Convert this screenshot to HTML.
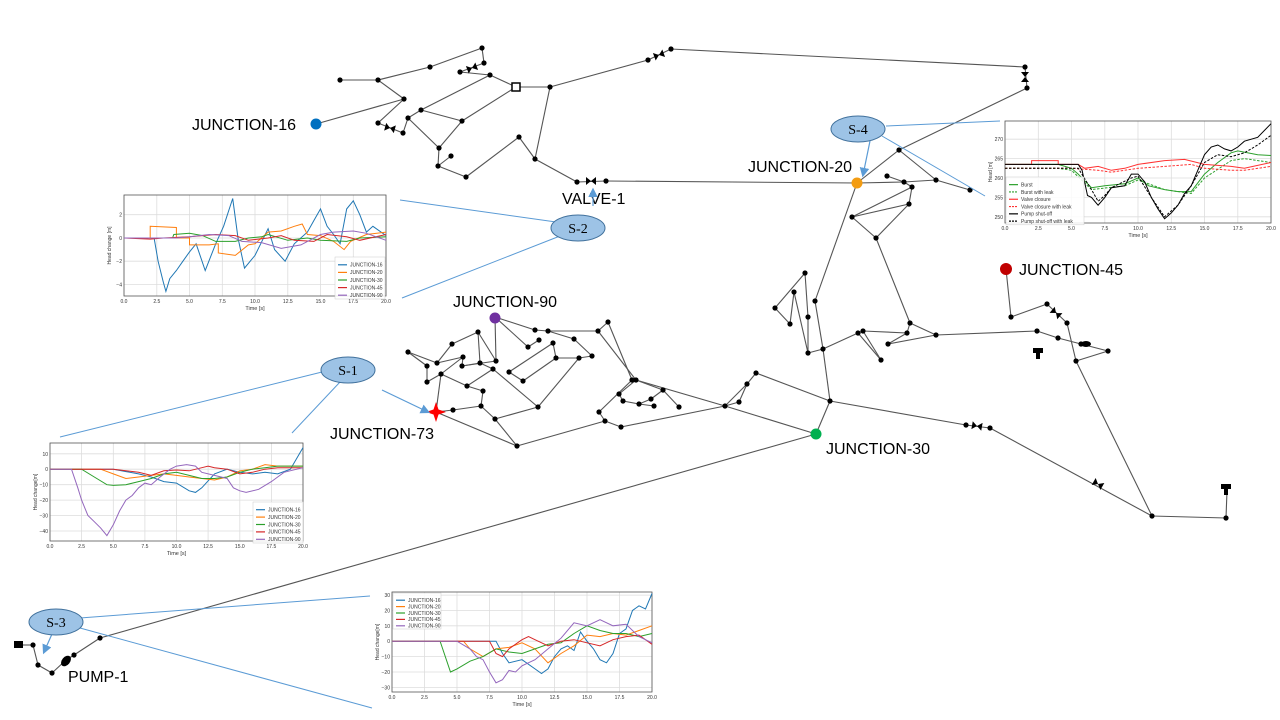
<!DOCTYPE html>
<html><head><meta charset="utf-8"><style>
html,body{margin:0;padding:0;background:#fff;width:1280px;height:720px;overflow:hidden}
svg{display:block;font-family:"Liberation Sans",Arial,sans-serif}
</style></head><body>
<svg id="s" width="1280" height="720" viewBox="0 0 1280 720" xmlns="http://www.w3.org/2000/svg"></svg>
<script>
var out=[];
function L(x1,y1,x2,y2,c,w,extra){out.push('<line x1="'+x1+'" y1="'+y1+'" x2="'+x2+'" y2="'+y2+'" stroke="'+c+'" stroke-width="'+w+'" '+(extra||'')+'/>');}
function T(x,y,t,sz,extra){out.push('<text x="'+x+'" y="'+y+'" font-size="'+sz+'" '+(extra||'')+'>'+t+'</text>');}
var N={
a:[340,80],b:[378,80],c:[430,67],d:[482,48],e:[484,63],f:[460,72],g:[490,75],h:[516,87],i:[550,87],j:[404,99],
m:[378,123],n:[403,133],l:[408,118],k:[421,110],o:[462,121],p:[439,148],r:[438,166],q:[451,156],s:[466,177],t:[519,137],u:[535,159],
v:[577,182],w:[606,181],x:[648,60],y:[671,49],y1:[1025,67],y2:[1027,88],J16:[316,124],
J20:[857,183],A:[899,150],B:[887,176],C:[904,182],D:[936,180],E:[970,190],F:[912,187],G:[909,204],H:[852,217],I:[876,238],R:[910,323],
z1:[805,273],z2:[794,292],z3:[775,308],z4:[790,324],z5:[808,317],z6:[808,353],z7:[823,349],z8:[815,301],
T1:[858,333],T2:[863,331],T3:[907,333],T4:[888,344],T5:[881,360],X:[936,335],Y:[1037,331],Y2:[1058,338],Y3:[1081,344],Y4:[1108,351],Y5:[1076,361],
J45:[1006,269],K1:[1011,317],K2:[1047,304],K3:[1067,323],N830:[830,401],V1:[966,425],V2:[990,428],V3:[1152,516],V4:[1226,518],V5:[1227,491],
J30:[816,434],J90:[495,317],J73:[436,412],
P1:[408,352],P2:[437,363],P3:[427,366],P4:[427,382],P5:[441,374],P6:[452,344],P7:[478,332],P8:[463,357],P9:[462,366],P10:[480,363],P11:[496,361],P12:[493,369],
P13:[467,386],P14:[483,391],P15:[481,406],P16:[453,410],P17:[495,419],P18:[517,446],P19:[538,407],P20:[509,372],P21:[523,381],P22:[553,343],P23:[556,358],
P24:[579,358],P25:[592,356],P26:[574,339],P27:[528,347],P28:[539,340],P29:[535,330],P30:[548,331],P31:[598,331],P32:[608,322],P33:[632,380],P34:[636,380],
P35:[663,390],P36:[619,394],P37:[623,401],P38:[639,404],P39:[651,399],P40:[654,406],P41:[679,407],P42:[599,412],P43:[605,421],P44:[621,427],P45:[725,406],
P46:[739,402],P47:[747,384],P48:[756,373],
Q1:[33,645],Q2:[38,665],Q3:[52,673],Q4:[66,660],Q5:[74,655],Q6:[100,638]
};
var E="a-b b-c c-d d-e e-f f-g g-h h-i b-j J16-j j-m m-n n-l l-k k-g k-o o-h o-p l-p p-r r-q r-s s-t t-u u-i u-v v-w i-x x-y y-y1 y1-y2 y2-A w-J20 "+
"J20-C C-D B-C A-D D-E A-J20 C-F F-G G-H H-F H-I I-G I-R J20-z8 z8-z7 z7-N830 N830-J30 z1-z3 z1-z5 z5-z6 z2-z4 z4-z3 z2-z6 z6-z7 z7-T1 T1-T2 T2-T3 T3-R T2-T5 T1-T5 T4-T3 T4-X R-X X-Y Y-Y2 Y2-Y3 Y3-Y4 Y4-Y5 Y5-V3 "+
"J45-K1 K1-K2 K2-K3 K3-Y5 N830-V1 V1-V2 V2-V3 V3-V4 V4-V5 J30-P45 P45-P47 P45-P46 P46-P47 P47-P48 P48-N830 "+
"J90-P29 P29-P30 P30-P31 P31-P32 P32-P33 P31-P34 J90-P27 P27-P28 P30-P26 P26-P25 P25-P24 P24-P23 P23-P22 P22-P20 P20-P21 P21-P23 P24-P19 P19-P17 P17-P15 P17-P18 J73-P18 P18-P43 P43-P42 P43-P44 P44-P45 "+
"P42-P33 P36-P37 P37-P38 P38-P40 P39-P38 P39-P35 P34-P35 P35-P41 P34-P45 P36-P34 "+
"J73-P5 P5-P13 P13-P14 P14-P15 P15-P16 J73-P16 P5-P8 P9-P10 P10-P12 P12-P13 P11-J90 P11-P9 P7-P10 P7-P11 P7-P6 P6-P2 P2-P1 P1-P3 P3-P4 P4-P5 P2-P8 P12-P19 P8-P9 "+
"Q1-Q2 Q2-Q3 Q3-Q4 Q4-Q5 Q5-Q6 Q6-J30";
E.split(/\s+/).forEach(function(e){if(!e)return;var p=e.split('-');var A=N[p[0]],B=N[p[1]];L(A[0],A[1],B[0],B[1],'#555',1.1);});
L(18,645,33,645,'#555',1.1);
var skip={J16:1,J20:1,J45:1,J90:1,J73:1,J30:1,V5:1};
for(var k in N){if(skip[k])continue;out.push('<circle cx="'+N[k][0]+'" cy="'+N[k][1]+'" r="2.6" fill="#000"/>');}
function valve(x,y,ang){out.push('<g transform="translate('+x+','+y+') rotate('+ang+')"><path d="M-5,-4 L5,4 L5,-4 L-5,4 Z" fill="#000"/></g>');}
valve(472,68,-20);valve(390,128,15);valve(591,181,0);valve(659,55,-20);valve(1025,77,90);valve(1056,313,40);valve(977,426,10);valve(1098,484,30);
out.push('<rect x="512" y="83" width="8" height="8" fill="#fff" stroke="#000" stroke-width="1.5"/>');
function pump(x,y){out.push('<rect x="'+(x-5)+'" y="'+(y-4)+'" width="10" height="5" fill="#000"/><rect x="'+(x-2)+'" y="'+y+'" width="4" height="7" fill="#000"/>');}
pump(1038,352);pump(1226,488);
out.push('<rect x="14" y="641" width="9" height="7" fill="#000"/>');
out.push('<ellipse cx="66" cy="661" rx="4" ry="6" transform="rotate(40 66 661)" fill="#000"/>');
out.push('<ellipse cx="1086" cy="344" rx="5" ry="3" fill="#000"/>');
// special junctions
out.push('<circle cx="316" cy="124" r="5.5" fill="#0070c0"/>');
out.push('<circle cx="857" cy="183" r="5.5" fill="#f39c12"/>');
out.push('<circle cx="1006" cy="269" r="6" fill="#c00000"/>');
out.push('<circle cx="495" cy="318" r="5.5" fill="#7030a0"/>');
out.push('<circle cx="816" cy="434" r="5.5" fill="#00b050"/>');
out.push('<path d="M436,402 L438.5,409.5 L446,412 L438.5,414.5 L436,422 L433.5,414.5 L426,412 L433.5,409.5 Z" fill="#ff0000"/>');
// labels
var lab='fill="#000"';
T(192,130,'JUNCTION-16',16,lab);T(748,172,'JUNCTION-20',16,lab);T(562,204,'VALVE-1',16,lab);T(1019,275,'JUNCTION-45',16,lab);
T(453,307,'JUNCTION-90',16,lab);T(330,439,'JUNCTION-73',16,lab);T(826,454,'JUNCTION-30',16,lab);T(68,682,'PUMP-1',16,lab);
// callouts
var bl='#5b9bd5';
L(886,126,1000,121,bl,1);L(882,136,985,196,bl,1);
L(556,222,400,200,bl,1);L(560,236,402,298,bl,1);
L(322,372,60,437,bl,1);L(340,382,292,433,bl,1);
L(80,618,370,596,bl,1);L(80,628,372,708,bl,1);
out.push('<defs><marker id="ar" markerWidth="8" markerHeight="8" refX="6" refY="4" orient="auto"><path d="M0,0 L8,4 L0,8 Z" fill="'+bl+'"/></marker></defs>');
L(870,141,863,175,bl,1.2,'marker-end="url(#ar)"');
L(593,206,593,190,bl,1.2,'marker-end="url(#ar)"');
L(382,390,428,412,bl,1.2,'marker-end="url(#ar)"');
L(52,634,44,652,bl,1.2,'marker-end="url(#ar)"');
function ell(cx,cy,t){out.push('<ellipse cx="'+cx+'" cy="'+cy+'" rx="27" ry="13" fill="#9dc3e6" stroke="#41719c" stroke-width="1"/>');T(cx,cy+5,t,14,'text-anchor="middle" font-family="Liberation Serif,serif" fill="#000"');}
ell(858,129,'S-4');ell(578,228,'S-2');ell(348,370,'S-1');ell(56,622,'S-3');
// charts
function chart(c){
 var x0=c.x0,x1=c.x1,y0=c.y0,y1=c.y1;
 function X(t){return x0+(t/20)*(x1-x0);} function Y(v){return y1-(v-c.vmin)/(c.vmax-c.vmin)*(y1-y0);}
 out.push('<rect x="'+x0+'" y="'+y0+'" width="'+(x1-x0)+'" height="'+(y1-y0)+'" fill="#fff"/>');
 for(var t=0;t<=20;t+=2.5){L(X(t).toFixed(1),y0,X(t).toFixed(1),y1,'#ddd',0.8);T(X(t).toFixed(1),y1+7,t.toFixed(1),5,'text-anchor="middle" fill="#333"');}
 c.yt.forEach(function(v){L(x0,Y(v).toFixed(1),x1,Y(v).toFixed(1),'#ddd',0.8);T(x0-2,(Y(v)+2).toFixed(1),(v<0?'\u2212'+(-v):v),5,'text-anchor="end" fill="#333"');});
 out.push('<rect x="'+x0+'" y="'+y0+'" width="'+(x1-x0)+'" height="'+(y1-y0)+'" fill="none" stroke="#555" stroke-width="0.8"/>');
 T((x0+x1)/2,y1+14,'Time [s]',5.5,'text-anchor="middle" fill="#333"');
 T(0,0,c.yl,5,'text-anchor="middle" fill="#333" transform="translate('+(x0-13)+','+((y0+y1)/2)+') rotate(-90)"');
 c.s.forEach(function(s){var pts=s.d.map(function(p){return X(p[0]).toFixed(1)+','+Y(p[1]).toFixed(1);}).join(' ');
  out.push('<polyline points="'+pts+'" fill="none" stroke="'+s.c+'" stroke-width="1" '+(s.dash?'stroke-dasharray="2.5,1.5"':'')+'/>');});
 var lg=c.lg;out.push('<rect x="'+lg[0]+'" y="'+lg[1]+'" width="'+lg[2]+'" height="'+(c.s.length*lg[3]+4)+'" fill="#fff" fill-opacity="0.85" stroke="#ccc" stroke-width="0.5"/>');
 c.s.forEach(function(s,i){var yy=lg[1]+4+i*lg[3]+lg[3]/2;L(lg[0]+3,yy,lg[0]+12,yy,s.c,1.2,s.dash?'stroke-dasharray="2,1"':'');T(lg[0]+15,yy+1.8,s.n,5,'fill="#333"');});
}
var cb='#1f77b4',co='#ff7f0e',cg='#2ca02c',cr='#d62728',cp='#9467bd';
chart({x0:124,x1:386,y0:195,y1:296,vmin:-5,vmax:3.7,yt:[2,0,-2,-4],yl:'Head change [m]',lg:[335,257,50,7.6],s:[
{n:'JUNCTION-16',c:cb,d:[[0,0],[2.3,0],[2.6,-2],[3,-3.8],[3.2,-4.6],[3.5,-3.5],[4,-2.8],[4.5,-2],[5,-1.2],[5.5,-0.5],[6.2,-2.8],[7,-0.5],[7.6,1],[8.3,3.4],[8.7,0],[9.2,-2.6],[10,-1.5],[11,0.8],[11.5,-1],[12.3,-2],[13,-0.5],[14,0.5],[14.5,1.5],[15,2.5],[15.5,1],[16,0.3],[16.5,-0.5],[17,2.5],[17.5,3.2],[18,2],[18.5,0.5],[19,1],[20,0.2]]},
{n:'JUNCTION-20',c:co,d:[[0,0],[2,0],[2,1],[4,0.9],[4,0],[5,0],[5,-0.6],[6.5,-0.6],[7.2,-0.5],[7.2,-1.3],[8.5,-1.5],[9.5,-0.6],[10,-0.5],[11,0.5],[12,0.6],[13,1],[13.6,1.2],[14,0.3],[15,0.2],[16,-0.3],[16.8,-1],[17.3,-0.3],[18.5,0.3],[20,0.5]]},
{n:'JUNCTION-30',c:cg,d:[[0,0],[3.7,0],[3.8,0.3],[5,0.4],[6,0.2],[7,-0.3],[8.5,-0.3],[9.5,0],[10.5,0.1],[11,0.3],[12.5,-0.2],[14,0],[15,-0.2],[17,-0.3],[18,0],[20,0.1]]},
{n:'JUNCTION-45',c:cr,d:[[0,0],[2,-0.1],[3,0],[5,0.1],[7,0.3],[8.5,0.2],[9.5,-0.2],[11,0],[12,0.2],[13,-0.2],[14.5,-0.3],[15.5,0.3],[17,0.1],[18,-0.2],[20,0.3]]},
{n:'JUNCTION-90',c:cp,d:[[0,0],[4,0],[5,0.1],[6.5,0.3],[8,0.2],[9,-0.3],[10.5,-0.4],[12,-0.9],[13.5,-0.6],[15,0.3],[16,0.5],[17.5,0.6],[18.5,0.4],[20,-0.2]]}]});
chart({x0:1005,x1:1271,y0:121,y1:223,vmin:248.4,vmax:274.7,yt:[270,265,260,255,250],yl:'Head [m]',lg:[1006,177,78,7.3],s:[
{n:'Burst',c:cg,d:[[0,263.5],[4,263.5],[5,262.5],[5.5,261],[6.5,257.5],[7.5,258],[9,258.5],[10,260],[10.8,258],[12,257],[13,256.5],[14,256.5],[15,261],[16,264],[17,266.5],[17.5,267],[19,266],[20,265.8]]},
{n:'Burst with leak',c:cg,dash:1,d:[[0,262.5],[4,262.5],[5,262],[6.5,257],[9,258],[10,259.5],[12,257],[14,256],[15,260],[17,264.5],[18,265],[20,264]]},
{n:'Valve closure',c:'#ff3333',d:[[0,263.5],[2,263.5],[2,264.5],[4,264.5],[4,263.5],[5.5,263.5],[6,262.5],[7,263],[8,262],[9,262.5],[10,263.5],[12,264.5],[13.5,264.8],[15,263.5],[17,263],[18,262.5],[20,264]]},
{n:'Valve closure with leak',c:'#ff3333',dash:1,d:[[0,262.5],[5,262.5],[7,262],[8,261.5],[10,262.5],[12,263],[14,263.5],[15,262.5],[17,262],[18,262],[20,263]]},
{n:'Pump shut-off',c:'#000',d:[[0,263.5],[5.5,263.5],[5.8,262],[6.2,255.5],[6.5,255],[7,253],[7.5,255],[8,257.5],[9,258],[9.5,261],[10,261],[10.5,259],[11,255],[11.5,252],[12,249.5],[12.5,251],[13,253],[13.5,256],[14,258],[14.5,262],[15,266],[15.5,268],[16,268.5],[16.5,267.5],[17,267],[17.5,268],[18,269.5],[19,270.5],[20,274]]},
{n:'Pump shut-off with leak',c:'#000',dash:1,d:[[0,262.5],[5.5,262.5],[6.5,257],[7,254],[7.5,255.5],[8,257.5],[9.5,260],[10,260.5],[11,255],[12,250],[13,253],[14,258],[15,264],[16,266],[17,265.5],[18,266.5],[19,268.5],[20,271]]}]});
chart({x0:50,x1:303,y0:443,y1:541,vmin:-46.5,vmax:17,yt:[10,0,-10,-20,-30,-40],yl:'Head change[m]',lg:[253,502,50,7.4],s:[
{n:'JUNCTION-16',c:cb,d:[[0,0],[5,0],[7,-3],[8,-5],[9,-8],[10,-9],[11,-14],[11.5,-15],[12,-12],[13,-3],[14,0],[15,-2],[16,-3],[17,-2],[18,-3],[19,0],[20,14]]},
{n:'JUNCTION-20',c:co,d:[[0,0],[4,0],[5,-3],[6,-6],[7,-5],[8,-4],[9,-3],[10,-4],[11,-5],[12,-6],[13,-7],[14,-5],[15,-1],[16,0],[17,3],[18,2],[20,2]]},
{n:'JUNCTION-30',c:cg,d:[[0,0],[2.5,0],[3.5,-5],[4.5,-10],[5,-10.5],[6,-10],[7,-8],[8,-6],[9,-3],[10,-2],[11,-4],[12,-6],[13,-6],[14,-5],[15,-2],[16,0],[17,1],[18,2],[20,2]]},
{n:'JUNCTION-45',c:cr,d:[[0,0],[5,0],[6,-1],[7,-2],[8,-4],[9,-1],[10,-0.5],[11,-1],[12,1],[12.5,2],[13,1],[14,0],[15,-3],[16,-2],[17,0],[18,1],[20,1]]},
{n:'JUNCTION-90',c:cp,d:[[0,0],[1.7,0],[2.2,-12],[2.5,-20],[3,-30],[3.5,-34],[4,-38],[4.5,-43],[5,-36],[5.5,-27],[6,-20],[6.5,-17],[7,-12],[7.5,-9],[8,-10],[8.7,-5],[9.5,0],[10,2],[10.8,3],[11.5,2],[12,-2],[13,-4],[14,-6],[14.5,-12],[15,-14],[15.5,-15],[16.5,-13],[17.5,-8],[18.5,-2],[20,1]]}]});
chart({x0:392,x1:652,y0:592,y1:692,vmin:-33,vmax:32,yt:[30,20,10,0,-10,-20,-30],yl:'Head change[m]',lg:[393,593,48,6.4],s:[
{n:'JUNCTION-16',c:cb,d:[[0,0],[8,0],[8.5,-8],[9,-14],[10,-12],[11,-18],[11.5,-21],[12,-18],[12.5,-10],[13,-5],[13.5,-3],[14,-6],[14.5,6],[15,0],[15.5,-5],[16,-12],[16.5,-14],[17,-8],[17.5,5],[18,8],[18.5,20],[19,23],[19.5,21],[20,31]]},
{n:'JUNCTION-20',c:co,d:[[0,0],[5.5,0],[6,-5],[7,-10],[8,-5],[9,-4],[10,-1],[11,-5],[12,-14],[13,-8],[14,-3],[15,4],[16,3],[17,5],[18,4],[19,7],[20,10]]},
{n:'JUNCTION-30',c:cg,d:[[0,0],[3.7,0],[4.5,-20],[5,-18],[6,-13],[7,-10],[8,-5],[9,-7],[10,-8],[11,-5],[12,-2],[13,-1],[14,5],[15,10],[16,7],[17,5],[18,5],[19,3],[20,5]]},
{n:'JUNCTION-45',c:cr,d:[[0,0],[7.5,0],[8,-8],[8.5,-10],[9,-5],[10,1],[10.5,3],[11,1],[12,-3],[13,0],[14,1],[15,-1],[16,-3],[17,1],[18,3],[19,4],[20,-2]]},
{n:'JUNCTION-90',c:cp,d:[[0,0],[5,0],[6,-5],[6.5,-10],[7,-12],[7.5,-20],[8,-27],[8.5,-25],[9,-19],[9.5,-20],[10,-16],[11,-12],[12,-5],[13,2],[14,12],[15,10],[16,14],[17,10],[18,11],[19,3],[20,-1]]}]});
document.getElementById('s').innerHTML=out.join('');
</script>
</body></html>
